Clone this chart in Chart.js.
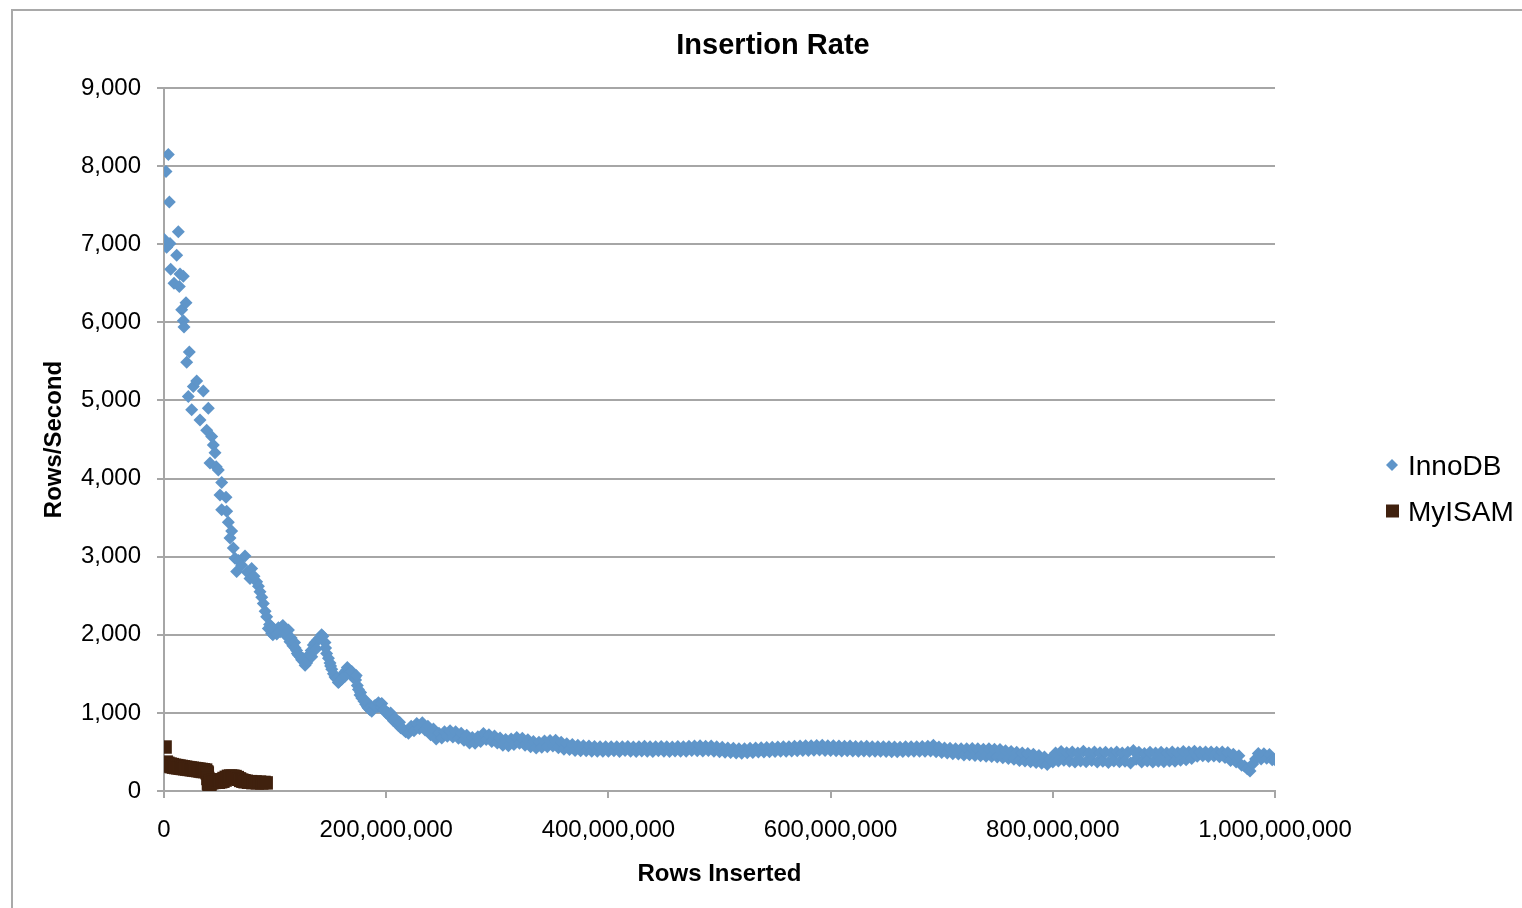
<!DOCTYPE html>
<html>
<head>
<meta charset="utf-8">
<script src="https://cdn.jsdelivr.net/npm/chart.js@4/dist/chart.umd.min.js"></script>
<style>
    body { margin: 0; background: #fff; overflow: hidden; }
    #frame { position: absolute; left: 11px; top: 9px; width: 1600px; height: 1000px;
             border-left: 2px solid #a9a9a9; border-top: 2px solid #a9a9a9; }
    #wrap { position: absolute; left: 0; top: 0; }
</style>
</head>
<body>
<div id="frame"></div>
<div id="wrap"><canvas id="rateChart" width="1522" height="908"></canvas></div>
<script>
// rows inserted (millions) and rows/second
// InnoDB, first 220M rows (scattered part)
const innoHeadRowsM = [
    0.3, 1.8, 2.4, 3.9, 4.8, 5.4, 6.0, 9.0, 11.4, 12.9, 13.8, 14.4, 15.9, 17.4, 17.4, 18.0, 19.8, 20.4, 21.9, 22.8,
    24.9, 26.4, 29.4, 32.4, 35.4, 38.4, 39.9, 41.4, 42.9, 44.4, 45.9, 47, 48.9, 50.4, 51.9, 51.9, 55.8, 56.4, 57.9, 59.4,
    60.9, 62.4, 63.9, 65.4, 67, 69.9, 72.9, 75, 77.4, 78.9, 81, 83.4, 85, 86.4, 88, 89.4, 91, 92.4, 93.9, 95,
    96.9, 98, 100, 103, 105.9, 108, 110.4, 111, 113.4, 116, 119.4, 121, 123.9, 126, 128.4, 131, 134.4, 138, 141.9, 144.9,
    146.4, 149.4, 151, 153.9, 156.9, 158.4, 161, 164.4, 166, 168, 170, 171.9, 174, 176.4, 178, 180, 183, 185.4, 188, 191,
    194.4, 197, 199, 201.9, 205, 209.4, 213, 216,
    97.5, 101.5, 104.5, 107, 109, 112, 114.5, 117.5, 118, 120, 122.5, 125, 127, 129.5, 132.5, 133, 136, 137, 140, 143,
    145.5, 148, 150, 152.5, 155, 157.5, 160, 162.5, 163, 165, 167, 169, 172.5, 173, 175, 177, 179, 181.5, 182, 184,
    186.5, 187, 189.5, 192.5, 193, 195.5, 196, 198, 200, 203, 204, 206.5, 208, 211, 212, 214.5, 217.5
];
const innoHeadRate = [
    7060, 7930, 6960, 8150, 7540, 7010, 6680, 6500, 6860, 7160, 6460, 6620, 6160, 6590, 6020, 5940, 6250, 5490, 5050, 5620,
    4880, 5180, 5250, 4750, 5120, 4620, 4900, 4200, 4540, 4430, 4330, 4150, 4110, 3790, 3950, 3600, 3760, 3580, 3440, 3240,
    3330, 3110, 2980, 2810, 2950, 2890, 3010, 2800, 2720, 2850, 2750, 2680, 2620, 2550, 2480, 2400, 2300, 2230, 2080, 2130,
    2020, 2000, 2050, 2090, 2100, 2060, 2040, 1980, 1910, 1860, 1800, 1740, 1680, 1650, 1640, 1750, 1870, 1930, 2000, 1900,
    1760, 1640, 1560, 1460, 1390, 1420, 1480, 1550, 1560, 1520, 1480, 1460, 1350, 1230, 1190, 1150, 1080, 1040, 1060, 1100,
    1110, 1060, 1020, 995, 930, 870, 810, 780,
    2090, 2010, 2040, 2120, 2000, 2060, 1960, 1900, 1830, 1760, 1720, 1700, 1610, 1680, 1800, 1720, 1900, 1820, 1960, 1980,
    1830, 1700, 1600, 1500, 1440, 1400, 1430, 1520, 1470, 1580, 1500, 1530, 1420, 1480, 1300, 1260, 1180, 1110, 1150, 1060,
    1080, 1020, 1090, 1080, 1130, 1070, 1120, 1040, 1000, 960, 1000, 900, 930, 840, 880, 800, 760
];

// InnoDB, 220M rows onward (dense band)
const innoTailRowsM = [
    220, 222.5, 225, 227.5, 230, 232.5, 235, 237.5,
    240, 242.5, 245, 247.5, 250, 252.5, 255, 257.5,
    260, 262.5, 265, 267.5, 270, 272.5, 275, 277.5,
    280, 282.5, 285, 287.5, 290, 292.5, 295, 297.5,
    300, 302.5, 305, 307.5, 310, 312.5, 315, 317.5,
    320, 322.5, 325, 327.5, 330, 332.5, 335, 337.5,
    340, 342.5, 345, 347.5, 350, 352.5, 355, 357.5,
    360, 362.5, 365, 367.5, 370, 372.5, 375, 377.5,
    380, 382.5, 385, 387.5, 390, 392.5, 395, 397.5,
    400, 402.5, 405, 407.5, 410, 412.5, 415, 417.5,
    420, 422.5, 425, 427.5, 430, 432.5, 435, 437.5,
    440, 442.5, 445, 447.5, 450, 452.5, 455, 457.5,
    460, 462.5, 465, 467.5, 470, 472.5, 475, 477.5,
    480, 482.5, 485, 487.5, 490, 492.5, 495, 497.5,
    500, 502.5, 505, 507.5, 510, 512.5, 515, 517.5,
    520, 522.5, 525, 527.5, 530, 532.5, 535, 537.5,
    540, 542.5, 545, 547.5, 550, 552.5, 555, 557.5,
    560, 562.5, 565, 567.5, 570, 572.5, 575, 577.5,
    580, 582.5, 585, 587.5, 590, 592.5, 595, 597.5,
    600, 602.5, 605, 607.5, 610, 612.5, 615, 617.5,
    620, 622.5, 625, 627.5, 630, 632.5, 635, 637.5,
    640, 642.5, 645, 647.5, 650, 652.5, 655, 657.5,
    660, 662.5, 665, 667.5, 670, 672.5, 675, 677.5,
    680, 682.5, 685, 687.5, 690, 692.5, 695, 697.5,
    700, 702.5, 705, 707.5, 710, 712.5, 715, 717.5,
    720, 722.5, 725, 727.5, 730, 732.5, 735, 737.5,
    740, 742.5, 745, 747.5, 750, 752.5, 755, 757.5,
    760, 762.5, 765, 767.5, 770, 772.5, 775, 777.5,
    780, 782.5, 785, 787.5, 790, 792.5, 795, 797.5,
    800, 802.5, 805, 807.5, 810, 812.5, 815, 817.5,
    820, 822.5, 825, 827.5, 830, 832.5, 835, 837.5,
    840, 842.5, 845, 847.5, 850, 852.5, 855, 857.5,
    860, 862.5, 865, 867.5, 870, 872.5, 875, 877.5,
    880, 882.5, 885, 887.5, 890, 892.5, 895, 897.5,
    900, 902.5, 905, 907.5, 910, 912.5, 915, 917.5,
    920, 922.5, 925, 927.5, 930, 932.5, 935, 937.5,
    940, 942.5, 945, 947.5, 950, 952.5, 955, 957.5,
    960, 962.5, 965, 967.5, 970, 972.5, 975, 977.5,
    980, 982.5, 985, 987.5, 990, 992.5, 995, 997.5,
    1000
];
const innoTailRate = [
    740, 830, 770, 865, 800, 875, 780, 830,
    720, 795, 665, 740, 680, 760, 700, 770,
    690, 760, 675, 740, 650, 715, 615, 685,
    610, 695, 635, 735, 660, 720, 635, 705,
    615, 680, 585, 660, 580, 665, 595, 685,
    610, 675, 585, 655, 565, 635, 550, 625,
    560, 640, 565, 645, 575, 650, 555, 625,
    535, 605, 530, 595, 520, 585, 515, 580,
    515, 575, 510, 570, 508, 568, 510, 568,
    510, 565, 515, 565, 505, 568, 518, 570,
    508, 562, 505, 566, 512, 572, 510, 565,
    506, 568, 515, 570, 508, 565, 505, 562,
    512, 570, 510, 568, 508, 572, 518, 575,
    515, 578, 512, 572, 518, 575, 510, 568,
    502, 560, 495, 552, 492, 548, 485, 542,
    484, 540, 490, 548, 492, 550, 498, 555,
    500, 558, 502, 560, 505, 562, 508, 568,
    510, 568, 512, 572, 515, 575, 518, 578,
    520, 580, 522, 582, 525, 585, 520, 578,
    518, 578, 515, 575, 512, 572, 515, 575,
    512, 570, 510, 570, 512, 572, 510, 568,
    508, 568, 510, 568, 505, 565, 502, 562,
    502, 560, 505, 565, 508, 568, 510, 568,
    508, 570, 510, 572, 512, 585, 502, 562,
    492, 552, 488, 548, 478, 542, 475, 540,
    460, 540, 465, 545, 455, 540, 450, 535,
    445, 540, 442, 535, 435, 530, 425, 515,
    415, 505, 405, 495, 390, 485, 385, 480,
    375, 470, 365, 455, 355, 435, 340, 410,
    370, 485, 385, 505, 395, 490, 380, 500,
    370, 485, 385, 510, 375, 485, 390, 500,
    370, 490, 380, 495, 365, 485, 385, 500,
    375, 485, 380, 495, 360, 520, 405, 495,
    370, 480, 385, 495, 370, 485, 380, 495,
    375, 485, 385, 500, 380, 490, 395, 505,
    400, 500, 415, 508, 445, 500, 450, 498,
    442, 500, 448, 496, 440, 498, 430, 492,
    390, 472, 370, 452, 330, 320, 285, 255,
    345, 410, 480, 410, 478, 420, 468, 400,
    400
];

const myisamRowsM = [
    1, 2, 2.5, 3.5, 4.5, 5.5, 6.5, 7.5, 8.5, 9.5, 10.5, 11.5, 12.5, 13.5, 14.5, 15.5, 16.5, 17.5, 18.5, 19.5,
    20.5, 21.5, 22.5, 23.5, 24.5, 25.5, 26.5, 27.5, 28.5, 29.5, 30.5, 31.5, 32.5, 33.5, 34.5, 35.5, 36.5, 37.5, 38.5,
    39, 39.5, 40, 40.5, 41, 41.5, 42, 43, 44, 45, 46, 47, 48, 49, 50, 51, 52, 53, 54, 55,
    56, 57, 58, 59, 60, 61, 62, 63, 64, 65, 66, 67, 68, 69, 70, 71, 72, 73, 74, 76,
    78, 80, 82, 84, 86, 88, 90, 92
];
const myisamRate = [
    563, 370, 330, 355, 320, 345, 312, 338, 305, 330, 300, 325, 296, 320, 292, 315, 288, 310, 284, 305,
    280, 300, 276, 296, 272, 292, 268, 288, 264, 284, 260, 280, 255, 276, 250, 272, 248, 268, 245,
    230, 160, 100, 80, 78, 90, 130, 105, 135, 110, 140, 115, 138, 112, 140, 118, 145, 125, 160, 140,
    175, 160, 188, 175, 192, 182, 190, 178, 185, 168, 172, 150, 155, 135, 140, 125, 132, 118, 125, 112,
    120, 106, 116, 104, 114, 103, 110, 104
];

const seriesNames = ['InnoDB', 'MyISAM'];
const seriesColors = ['#5f95c9', '#40210e'];
const xTicks = [0, 200000000, 400000000, 600000000, 800000000, 1000000000];
const yTicks = [0, 1000, 2000, 3000, 4000, 5000, 6000, 7000, 8000, 9000];

const FONT = "'Liberation Sans', Arial, Helvetica, sans-serif";
const GRID = '#a6a6a6';

function toPoints(rowsM, rates) {
    return rowsM.map((m, i) => ({ x: m * 1000000, y: rates[i] }));
}

// title + legend drawn by hand so they can sit where Excel put them
const decorPlugin = {
    id: 'decor',
    afterDraw(chart) {
        const ctx = chart.ctx;
        ctx.save();
        ctx.fillStyle = '#000';
        ctx.font = 'bold 29px ' + FONT;
        ctx.textAlign = 'center';
        ctx.textBaseline = 'alphabetic';
        ctx.fillText('Insertion Rate', 773, 54);

        const rows = [475, 521];
        chart.data.datasets.forEach((ds, i) => {
            const cy = rows[i] - 10;
            ctx.fillStyle = ds.backgroundColor;
            ctx.beginPath();
            if (ds.pointStyle === 'rectRot') {
                ctx.moveTo(1392, cy - 6);
                ctx.lineTo(1398, cy);
                ctx.lineTo(1392, cy + 6);
                ctx.lineTo(1386, cy);
            } else {
                ctx.rect(1386, cy - 6.5, 13, 13);
            }
            ctx.closePath();
            ctx.fill();
            ctx.fillStyle = '#000';
            ctx.font = '28px ' + FONT;
            ctx.textAlign = 'left';
            ctx.fillText(ds.label, 1408, rows[i]);
        });
        ctx.restore();
    }
};

const ctx = document.getElementById('rateChart').getContext('2d');
const chart = new Chart(ctx, {
    type: 'scatter',
    data: {
        datasets: [{
            label: seriesNames[0],
            data: toPoints(innoHeadRowsM, innoHeadRate).concat(toPoints(innoTailRowsM, innoTailRate)),
            backgroundColor: seriesColors[0],
            borderColor: seriesColors[0],
            borderWidth: 0,
            pointStyle: 'rectRot',
            pointRadius: 6.5,
            pointHoverRadius: 6.5
        }, {
            label: seriesNames[1],
            data: toPoints(myisamRowsM, myisamRate),
            backgroundColor: seriesColors[1],
            borderColor: seriesColors[1],
            borderWidth: 0,
            pointStyle: 'rect',
            pointRadius: 9.5,
            pointHoverRadius: 9.5
        }]
    },
    options: {
        responsive: false,
        animation: false,
        events: [],
        layout: {
            padding: { top: 88, right: 247, bottom: 0, left: 20 }
        },
        plugins: {
            legend: { display: false },
            title: { display: false },
            tooltip: { enabled: false }
        },
        scales: {
            x: {
                type: 'linear',
                min: 0,
                max: 1000000000,
                afterFit: function (scale) { scale.height = 117; },
                afterBuildTicks: function (scale) {
                    scale.ticks = xTicks.map(v => ({ value: v }));
                },
                ticks: {
                    color: '#000',
                    padding: 18,
                    maxRotation: 0,
                    font: { family: FONT, size: 24 },
                    callback: function (value) { return value.toLocaleString('en-US'); }
                },
                grid: {
                    drawOnChartArea: false,
                    drawTicks: true,
                    tickLength: 7,
                    color: GRID,
                    lineWidth: 2
                },
                border: { display: true, color: GRID, width: 2 },
                title: {
                    display: true,
                    text: 'Rows Inserted',
                    color: '#000',
                    font: { family: FONT, size: 24, weight: 'bold' },
                    padding: { top: 0, bottom: 19 }
                }
            },
            y: {
                min: 0,
                max: 9000,
                afterFit: function (scale) { scale.width = 144; },
                afterBuildTicks: function (scale) {
                    scale.ticks = yTicks.map(v => ({ value: v }));
                },
                ticks: {
                    color: '#000',
                    padding: 16,
                    font: { family: FONT, size: 24 },
                    callback: function (value) { return value.toLocaleString('en-US'); }
                },
                grid: {
                    drawTicks: true,
                    tickLength: 7,
                    color: GRID,
                    lineWidth: 2
                },
                border: { display: true, color: GRID, width: 2 },
                title: {
                    display: true,
                    text: 'Rows/Second',
                    color: '#000',
                    font: { family: FONT, size: 24, weight: 'bold' },
                    padding: { top: 20, bottom: 0 }
                }
            }
        }
    },
    plugins: [decorPlugin]
});
</script>
</body>
</html>
